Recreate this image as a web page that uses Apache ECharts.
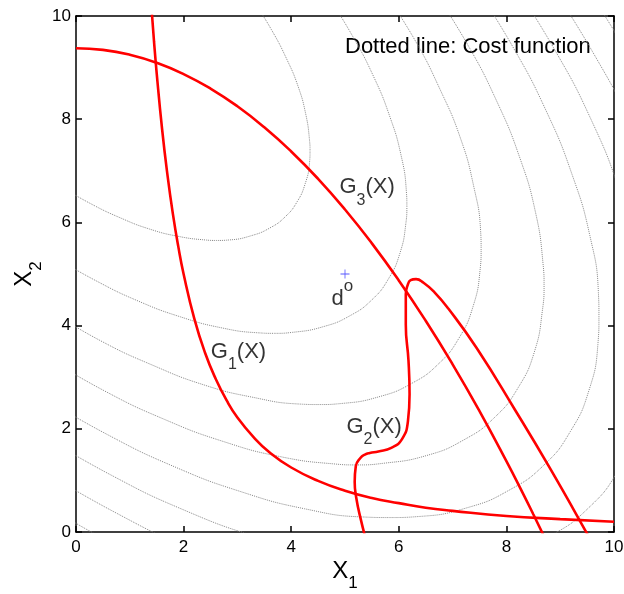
<!DOCTYPE html>
<html>
<head>
    <meta charset="utf-8">
    <title>Cost function and constraints</title>
    <script src="https://cdn.jsdelivr.net/npm/echarts@6.0.0/dist/echarts.min.js"></script>
</head>
<body style="margin:0;">
<div id="main" style="width:624px;height:594px;"></div>
<script type="text/javascript">
// dotted cost function contours, innermost (1) to outermost (8), [X1, X2]
var cost1 = [[-0.31,6.71],[0.26,6.37],[0.82,6.09],[1.37,5.87],[1.90,5.73],[2.40,5.66],[2.61,5.65],[2.85,5.66],[3.25,5.74],[3.60,5.89],[3.89,6.11],[4.11,6.40],[4.26,6.75],[4.34,7.15],[4.35,7.39],[4.34,7.60],[4.27,8.10],[4.13,8.63],[3.91,9.18],[3.63,9.74],[3.29,10.31]];
var cost2 = [[-0.44,5.35],[0.37,4.87],[1.17,4.47],[1.94,4.17],[2.69,3.96],[3.39,3.86],[3.69,3.85],[4.03,3.87],[4.60,3.98],[5.09,4.19],[5.50,4.50],[5.81,4.91],[6.02,5.40],[6.13,5.97],[6.15,6.31],[6.14,6.61],[6.04,7.31],[5.83,8.06],[5.53,8.83],[5.13,9.63],[4.65,10.44]];
var cost3 = [[-0.53,4.31],[0.45,3.71],[1.43,3.23],[2.38,2.85],[3.29,2.61],[4.15,2.48],[4.52,2.47],[4.93,2.49],[5.63,2.62],[6.24,2.88],[6.74,3.26],[7.12,3.76],[7.38,4.37],[7.51,5.07],[7.53,5.48],[7.52,5.85],[7.39,6.71],[7.15,7.62],[6.77,8.57],[6.29,9.55],[5.69,10.53]];
var cost4 = [[-0.62,3.43],[0.52,2.74],[1.65,2.18],[2.75,1.75],[3.80,1.46],[4.79,1.32],[5.22,1.30],[5.70,1.33],[6.51,1.48],[7.20,1.78],[7.78,2.22],[8.22,2.80],[8.52,3.49],[8.67,4.30],[8.70,4.78],[8.68,5.21],[8.54,6.20],[8.25,7.25],[7.82,8.35],[7.26,9.48],[6.57,10.62]];
var cost5 = [[-0.69,2.65],[0.58,1.89],[1.84,1.26],[3.07,0.78],[4.25,0.45],[5.36,0.29],[5.83,0.28],[6.37,0.30],[7.27,0.47],[8.05,0.81],[8.70,1.30],[9.19,1.95],[9.53,2.73],[9.70,3.63],[9.72,4.17],[9.71,4.64],[9.55,5.75],[9.22,6.93],[8.74,8.16],[8.11,9.42],[7.35,10.69]];
var cost6 = [[-0.76,1.95],[0.64,1.11],[2.02,0.42],[3.37,-0.10],[4.66,-0.46],[5.87,-0.63],[6.39,-0.65],[6.98,-0.62],[7.97,-0.43],[8.82,-0.07],[9.53,0.47],[10.07,1.18],[10.43,2.03],[10.62,3.02],[10.65,3.61],[10.63,4.13],[10.46,5.34],[10.10,6.63],[9.58,7.98],[8.89,9.36],[8.05,10.76]];
var cost7 = [[-0.82,1.31],[0.69,0.40],[2.18,-0.35],[3.64,-0.91],[5.03,-1.30],[6.34,-1.48],[7.54,-1.48],[8.61,-1.27],[9.53,-0.87],[10.29,-0.29],[10.87,0.47],[11.27,1.39],[11.48,2.46],[11.48,3.66],[11.30,4.97],[10.91,6.36],[10.35,7.82],[9.60,9.31],[8.69,10.82]];
var cost8 = [[-0.87,0.71],[0.74,-0.26],[2.33,-1.06],[3.89,-1.67],[5.38,-2.08],[6.78,-2.28],[8.06,-2.27],[9.20,-2.05],[10.19,-1.62],[11.00,-1.00],[11.62,-0.19],[12.05,0.80],[12.27,1.94],[12.28,3.22],[12.08,4.62],[11.67,6.11],[11.06,7.67],[10.26,9.26],[9.29,10.87]];

// red constraint boundaries
var g1 = [[1.40,10.20],[1.45,9.51],[1.50,8.89],[1.60,7.81],[1.70,6.92],[1.80,6.17],[1.90,5.54],[2.00,5.00],[2.20,4.13],[2.40,3.47],[2.60,2.96],[2.80,2.55],[3.00,2.22],[3.30,1.84],[3.60,1.54],[4.00,1.25],[4.50,0.99],[5.00,0.80],[5.50,0.66],[6.00,0.56],[6.50,0.47],[7.00,0.41],[8.00,0.31],[9.00,0.25],[10.00,0.20]];
var g2 = [[5.42,-0.27],[5.29,0.26],[5.21,0.66],[5.18,0.97],[5.20,1.27],[5.29,1.44],[5.37,1.50],[5.46,1.53],[5.62,1.56],[5.86,1.63],[6.06,1.80],[6.17,2.15],[6.20,2.67],[6.18,3.32],[6.13,4.02],[6.13,4.61],[6.16,4.77],[6.22,4.88],[6.32,4.90],[6.46,4.83],[6.66,4.65],[6.92,4.33],[7.45,3.56],[8.17,2.35],[8.79,1.27],[9.52,-0.07],[10.38,-1.68]];
var g3 = [[0.00,9.375],[0.50,9.344],[1.00,9.25],[1.50,9.094],[2.00,8.875],[2.50,8.594],[3.00,8.25],[3.50,7.844],[4.00,7.375],[4.50,6.844],[5.00,6.25],[5.50,5.594],[6.00,4.875],[6.50,4.094],[7.00,3.25],[7.50,2.344],[8.00,1.375],[8.30,0.764],[8.50,0.344],[8.70,-0.086]];

var designPoint = [[5, 5]];

var FONT = 'Liberation Sans, Arial, Helvetica, sans-serif';
var subStyle = { fontSize: 16, lineHeight: 16, verticalAlign: 'bottom', fontFamily: FONT, color: '#000' };
var supStyle = { fontSize: 17, lineHeight: 26, verticalAlign: 'top', fontFamily: FONT, color: '#000' };

var myChart = echarts.init(document.getElementById('main'));

var series = [cost1, cost2, cost3, cost4, cost5, cost6, cost7, cost8].map(function (pts, i) {
    return {
        name: 'cost' + (i + 1),
        type: 'line',
        data: pts,
        smooth: true,
        symbol: 'none',
        silent: true,
        z: 1,
        lineStyle: { color: '#888888', width: 1, type: 'dotted' }
    };
});

[g1, g2, g3].forEach(function (pts, i) {
    series.push({
        name: 'G' + (i + 1),
        type: 'line',
        data: pts,
        smooth: true,
        symbol: 'none',
        silent: true,
        z: 3,
        lineStyle: { color: '#ff0000', width: 2.6 }
    });
});

series.push({
    name: 'd0',
    type: 'scatter',
    data: designPoint,
    symbol: 'path://M-0.09,-1 L0.09,-1 L0.09,-0.09 L1,-0.09 L1,0.09 L0.09,0.09 L0.09,1 L-0.09,1 L-0.09,0.09 L-1,0.09 L-1,-0.09 L-0.09,-0.09 Z',
    symbolSize: 9,
    itemStyle: { color: '#2a2aff' },
    z: 4
});

// text labels placed in data coordinates
series.push({
    name: 'labels',
    type: 'scatter',
    symbolSize: 1,
    itemStyle: { color: 'rgba(0,0,0,0)' },
    silent: true,
    z: 5,
    label: {
        show: true,
        position: 'inside',
        color: '#000',
        fontSize: 22,
        lineHeight: 42,
        fontFamily: FONT,
        rich: { s: subStyle, o: supStyle }
    },
    data: [
        { value: [5.41, 6.68], label: { formatter: 'G{s|3}(X)' } },
        { value: [3.02, 3.49], label: { formatter: 'G{s|1}(X)' } },
        { value: [5.54, 2.04], label: { formatter: 'G{s|2}(X)' } },
        { value: [4.95, 4.51], label: { formatter: 'd{o|o}' } }
    ]
});

var axisLine = { show: true, onZero: false, lineStyle: { color: '#000', width: 1.5 } };
var axisTick = { show: true, inside: true, length: 6, lineStyle: { color: '#000', width: 1.5 } };
var nameStyle = {
    fontSize: 24, lineHeight: 42, color: '#000', fontFamily: FONT,
    rich: { s: { fontSize: 17, lineHeight: 17, verticalAlign: 'bottom', fontFamily: FONT, color: '#000' } }
};

myChart.setOption({
    animation: false,
    backgroundColor: '#fff',
    grid: { left: 76, right: 10, top: 16, bottom: 62, containLabel: false, outerBoundsMode: 'none' },
    graphic: [{
        type: 'text',
        x: 345,
        y: 47,
        style: {
            text: 'Dotted line: Cost function',
            fontSize: 22,
            fontFamily: FONT,
            fill: '#000',
            textAlign: 'left',
            textVerticalAlign: 'middle',
            align: 'left',
            verticalAlign: 'middle'
        }
    }],
    xAxis: [{
        type: 'value', min: 0, max: 10, interval: 2, position: 'bottom',
        axisLine: axisLine, axisTick: axisTick, splitLine: { show: false },
        axisLabel: { fontSize: 17, color: '#000', margin: 7, fontFamily: FONT },
        name: 'X{s|1}', nameLocation: 'middle', nameGap: 18, nameMoveOverlap: false,
        nameTextStyle: nameStyle
    }, {
        type: 'value', min: 0, max: 10, interval: 2, position: 'top',
        axisLine: axisLine, axisTick: axisTick, splitLine: { show: false },
        axisLabel: { show: false }
    }],
    yAxis: [{
        type: 'value', min: 0, max: 10, interval: 2, position: 'left',
        axisLine: axisLine, axisTick: axisTick, splitLine: { show: false },
        axisLabel: { fontSize: 17, color: '#000', margin: 5, fontFamily: FONT },
        name: 'X{s|2}', nameLocation: 'middle', nameRotate: 90, nameGap: 31, nameMoveOverlap: false,
        nameTextStyle: nameStyle
    }, {
        type: 'value', min: 0, max: 10, interval: 2, position: 'right',
        axisLine: axisLine, axisTick: axisTick, splitLine: { show: false },
        axisLabel: { show: false }
    }],
    series: series
});
</script>
</body>
</html>
